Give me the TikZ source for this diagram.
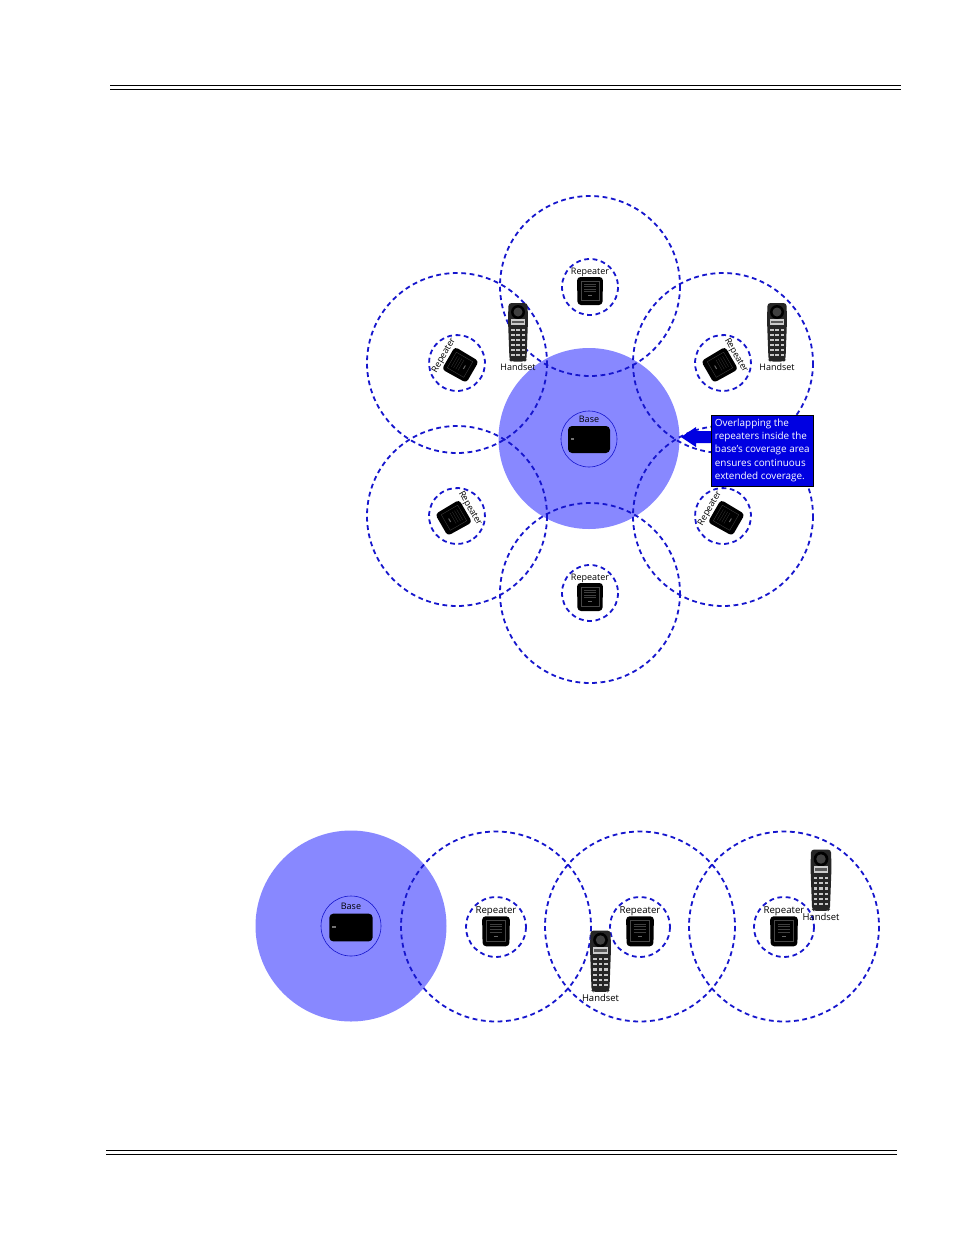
\documentclass[tikz,border=0pt]{standalone}
\usepackage{fontspec}
\setmainfont{Open Sans}
\usepackage{xcolor}
\usetikzlibrary{calc}
\definecolor{rangeblue}{RGB}{22,22,205}
\definecolor{basefill}{RGB}{136,136,255}
\definecolor{calloutblue}{RGB}{0,0,225}
\definecolor{phonegrey}{RGB}{38,38,38}
\tikzset{
  rangeline/.style={rangeblue,line width=1.8pt,dash pattern=on 4.8pt off 3.6pt},
  rule/.style={black,line width=1pt},
  devlabel/.style={font=\fontsize{9}{10}\selectfont,inner sep=0pt,transform shape},
  repeater/.pic={
    \draw[rangeline] (0,0) circle (28);
    \fill[black,rounded corners=3.5] (-13,-10)--(13,-10)--(12.5,18)--(-12.5,18)--cycle;
    \draw[black!72,line width=0.3pt] (-9,-6) rectangle (9,13);
    \foreach \y in {-3,-0.5,2,4.5}{
      \draw[black!75,line width=0.25pt] (-6,\y)--(6,\y);}
    \fill[black!60] (-2,8) rectangle (2,9);
    \node[devlabel] (-lbl) at (0,-15) {Repeater};
  },
  handset/.pic={
    \fill[phonegrey,rounded corners=3] (-9.5,-29)--(9.5,-29)--(10,-12)--(8.5,28)--(7,29.5)
      --(-7,29.5)--(-8.5,28)--(-10,-12)--cycle;
    \fill[black] (0,-20) circle (7);
    \fill[black!75] (0,-20) circle (4.5);
    \fill[black!20] (-7,-13) rectangle (7,-7);
    \fill[black!65] (-6,-11.5) rectangle (6,-9);
    \foreach \y in {-2,3,8,13,18,23}{
      \foreach \x in {-5.2,0,5.2}{
        \fill[black!22] ($(\x,\y)+(-1.7,-1.1)$) rectangle ($(\x,\y)+(1.7,1.1)$);}}
    \node[devlabel] (-lbl) at (0,35) {Handset};
  },
}
\newcommand{\basebox}[3]{%
  \fill[black,rounded corners=4] ($(#1,#2)+(-#3*21,-#3*13)$) rectangle ($(#1,#2)+(#3*21,#3*14)$);
  \fill[black!55] ($(#1,#2)+(-#3*18,-#3*1)$) rectangle ($(#1,#2)+(-#3*15,#3*1)$);}
\begin{document}
\begin{tikzpicture}[x=1pt,y=-1pt]
  \useasboundingbox (0,0) rectangle (954,1235);
  \fill[white] (0,0) rectangle (954,1235);
  % page rules
  \draw[rule] (110,85.7)--(901,85.7);
  \draw[rule] (110,89.5)--(901,89.5);
  \draw[rule] (106,1150.7)--(897,1150.7);
  \draw[rule] (106,1154.5)--(897,1154.5);
  % star layout
  \fill[basefill] (589,438.5) circle (90.5);
  \draw[rangeblue,line width=0.6pt] (589,439) circle (28);
  \foreach \x/\y in {590/286,457/363,723/363,457/516,723/516,590/593}{
    \draw[rangeline] (\x,\y) circle (90);}
  \basebox{589}{439}{1}
  \node[font=\fontsize{9}{10}\selectfont,inner sep=0pt] (baseA) at (589,419) {Base};
  \foreach \x/\y/\r/\n in {590/287/0/repA,457/363/60/repB,723/363/-60/repC,
                           457/516/-60/repD,723/516/60/repE,590/593/0/repF}{
    \pic[rotate=\r] (\n) at (\x,\y) {repeater};}
  \pic (phoneA) at (518,332) {handset};
  \pic (phoneB) at (777,332) {handset};
  % callout
  \fill[calloutblue] (711,431)--(696,431)--(696,427)--(681,437)--(696,447)--(696,443)--(711,443)--cycle;
  \node[draw=black,line width=0.6pt,fill=calloutblue,text=white,align=left,anchor=north west,
        minimum width=102,minimum height=71,inner sep=1,
        font=\fontsize{9.9}{13.3}\selectfont] (note) at (711,414.5)
    {Overlapping the\\repeaters inside the\\base's coverage area\\ensures continuous\\extended coverage.};
  % row layout
  \fill[basefill] (351,926) circle (95.5);
  \draw[rangeblue,line width=0.6pt] (351,926) circle (30);
  \foreach \x in {496,640,784}{
    \draw[rangeline] (\x,926.5) circle (95);}
  \basebox{351}{927}{1.03}
  \node[font=\fontsize{9}{10}\selectfont,inner sep=0pt] (baseB) at (351,906) {Base};
  \foreach \x/\n in {496/repG,640/repH,784/repI}{
    \pic[scale=1.07] (\n) at (\x,927) {repeater};}
  \pic[scale=1.05] (phoneC) at (600.5,961) {handset};
  \pic[scale=1.05] (phoneD) at (821,880) {handset};
\end{tikzpicture}
\end{document}
